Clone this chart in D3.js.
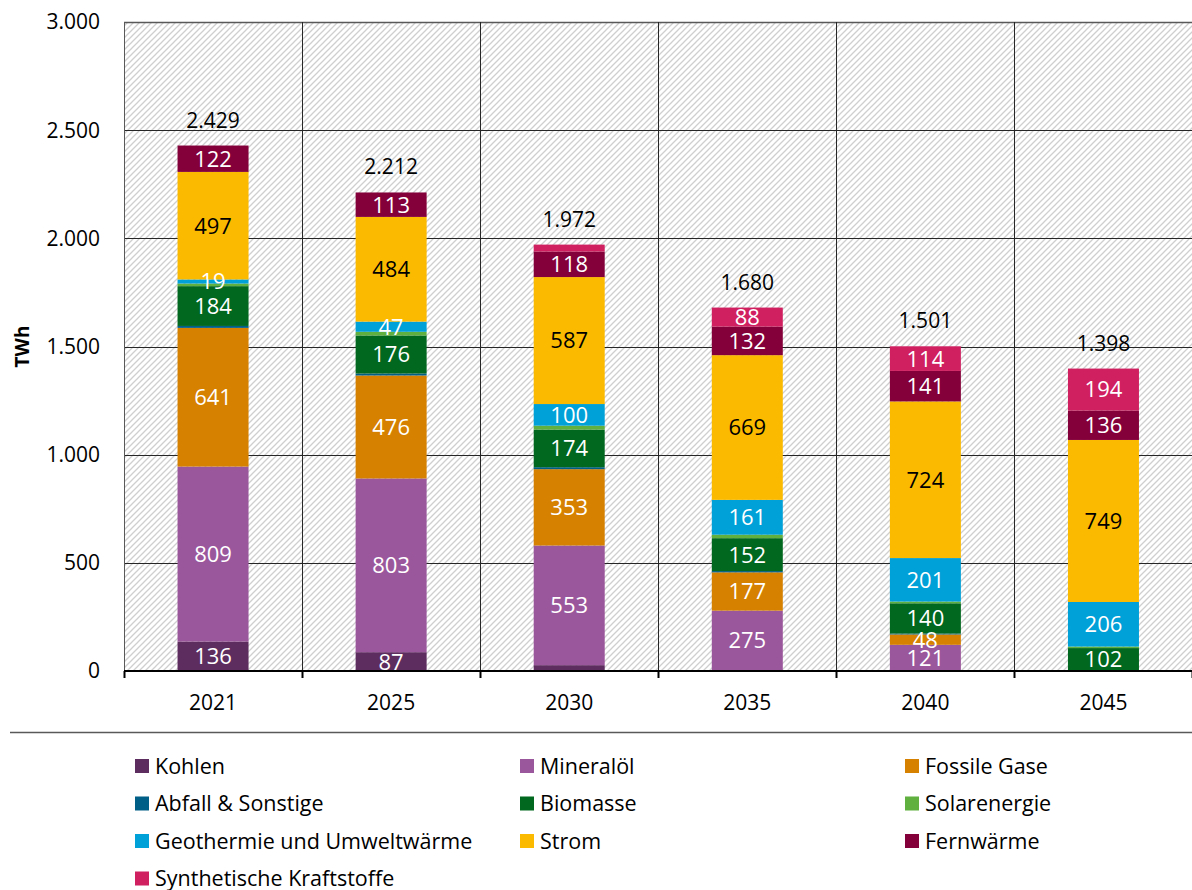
<!DOCTYPE html>
<html>
<head>
<meta charset="utf-8">
<script src="https://cdn.jsdelivr.net/npm/d3@7"></script>
<style>
  body { margin: 0; background: #fff; }
  text { font-family: "Open Sans", Lato, sans-serif; }
</style>
</head>
<body>
<div id="graph"></div>
<script>
// years on the x axis
var years = ['2021', '2025', '2030', '2035', '2040', '2045']

// series, bottom to top
var seriesNames = ['Kohlen', 'Mineralöl', 'Fossile Gase', 'Abfall & Sonstige', 'Biomasse',
  'Solarenergie', 'Geothermie und Umweltwärme', 'Strom', 'Fernwärme', 'Synthetische Kraftstoffe']

var seriesColors = ['#5e2d60', '#9b579c', '#d68100', '#005f87', '#00681f',
  '#5fb03f', '#00a0d8', '#fbba00', '#84003a', '#d02060']

// values in TWh, one array per series, in order of years
var kohlen     = [136, 87, 27, 4, 0, 0]
var mineraloel = [809, 803, 553, 275, 121, 0]
var fossil     = [641, 476, 353, 177, 48, 0]
var abfall     = [9, 9, 9, 6, 4, 4]
var biomasse   = [184, 176, 174, 152, 140, 102]
var solar      = [12, 17, 18, 16, 8, 7]
var geo        = [19, 47, 100, 161, 201, 206]
var strom      = [497, 484, 587, 669, 724, 749]
var fernwaerme = [122, 113, 118, 132, 141, 136]
var synth      = [0, 0, 32, 88, 114, 194]

// totals printed above the bars
var totals = [2429, 2212, 1972, 1680, 1501, 1398]

var yTicks = [0, 500, 1000, 1500, 2000, 2500, 3000]

var seriesValues = [kohlen, mineraloel, fossil, abfall, biomasse, solar, geo, strom, fernwaerme, synth]

var de = d3.formatLocale({decimal: ',', thousands: '.', grouping: [3], currency: ['', ' €']})
var fmt = de.format(',d')

var W = 1192, H = 890
var margin = {left: 124, top: 22, right: 0}
var plotBottom = 671

var svg = d3.select('#graph').append('svg').attr('width', W).attr('height', H)

var rows = years.map(function(y, i){
  var r = {year: y}
  seriesNames.forEach(function(s, j){ r[s] = seriesValues[j][i] })
  return r
})
var stacked = d3.stack().keys(seriesNames)(rows)

var x = d3.scaleBand().domain(years).range([margin.left, W + 0.5]).paddingInner(0).paddingOuter(0)
var y = d3.scaleLinear().domain([0, 3000]).range([plotBottom, margin.top])
var color = d3.scaleOrdinal().domain(seriesNames).range(seriesColors)

var barW = 71

// hatched plot background
var defs = svg.append('defs')
var pat = defs.append('pattern').attr('id', 'hatch')
  .attr('patternUnits', 'userSpaceOnUse').attr('width', 6).attr('height', 6)
pat.append('rect').attr('width', 6).attr('height', 6).attr('fill', '#fff')
pat.append('path').attr('d', 'M-1,1 l2,-2 M0,6 l6,-6 M5,7 l2,-2')
  .attr('stroke', '#cfcfcf').attr('stroke-width', 1.3)

svg.append('rect')
  .attr('x', margin.left).attr('y', margin.top)
  .attr('width', W - margin.left).attr('height', plotBottom - margin.top)
  .attr('fill', 'url(#hatch)')

// horizontal gridlines
svg.append('g').selectAll('line').data(yTicks.filter(function(d){ return d > 0 }))
  .join('line')
  .attr('x1', margin.left).attr('x2', W)
  .attr('y1', function(d){ return Math.round(y(d)) + 0.5 })
  .attr('y2', function(d){ return Math.round(y(d)) + 0.5 })
  .attr('stroke', function(d){ return d == 3000 ? '#595959' : '#262626' })
  .attr('stroke-width', function(d){ return d == 3000 ? 1.5 : 1 })

// vertical gridlines at category boundaries
var bounds = years.map(function(d){ return x(d) })
svg.append('g').selectAll('line').data(bounds)
  .join('line')
  .attr('x1', function(d){ return Math.round(d) + 0.5 })
  .attr('x2', function(d){ return Math.round(d) + 0.5 })
  .attr('y1', margin.top).attr('y2', plotBottom)
  .attr('stroke', function(d, i){ return i == 0 ? '#595959' : '#262626' })
  .attr('stroke-width', 1)

// stacked bars
var layer = svg.append('g').selectAll('g').data(stacked).join('g')
  .attr('fill', function(d){ return color(d.key) })

layer.selectAll('rect').data(function(d){ return d.map(function(p){ p.key = d.key; return p }) })
  .join('rect')
  .attr('x', function(d){ return x(d.data.year) + x.bandwidth() / 2 - barW / 2 })
  .attr('width', barW)
  .attr('y', function(d){ return y(d[1]) })
  .attr('height', function(d){ return Math.max(0, y(d[0]) - y(d[1])) })

// segment labels
function showLabel(d){
  var v = d[1] - d[0]
  if (d.key == 'Abfall & Sonstige' || d.key == 'Solarenergie') return false
  if (d.key == 'Geothermie und Umweltwärme') return v >= 15
  return v >= 40
}
var labels = []
stacked.forEach(function(s){ s.forEach(function(p){ if (showLabel(p)) labels.push(p) }) })

svg.append('g').selectAll('text').data(labels).join('text')
  .attr('x', function(d){ return x(d.data.year) + x.bandwidth() / 2 })
  .attr('y', function(d){ return (y(d[0]) + y(d[1])) / 2 })
  .attr('dy', '0.36em')
  .attr('text-anchor', 'middle')
  .attr('font-size', 22)
  .attr('fill', function(d){ return d.key == 'Strom' ? '#000' : '#fff' })
  .text(function(d){ return fmt(d[1] - d[0]) })

// totals
svg.append('g').selectAll('text').data(totals).join('text')
  .attr('x', function(d, i){ return x(years[i]) + x.bandwidth() / 2 })
  .attr('y', function(d, i){ return y(d3.sum(seriesValues, function(s){ return s[i] })) - 18 })
  .attr('text-anchor', 'middle')
  .attr('font-size', 21)
  .attr('fill', '#000')
  .text(function(d){ return fmt(d) })

// x axis
var xAxis = svg.append('g').attr('transform', 'translate(0,' + plotBottom + ')')
xAxis.append('line').attr('x1', margin.left).attr('x2', W).attr('stroke', '#000').attr('stroke-width', 2)
xAxis.selectAll('line.tick').data(bounds.concat([W])).join('line').attr('class', 'tick')
  .attr('x1', function(d){ return Math.round(d) + 0.5 })
  .attr('x2', function(d){ return Math.round(d) + 0.5 })
  .attr('y1', 0).attr('y2', 7)
  .attr('stroke', '#000').attr('stroke-width', 2)
xAxis.selectAll('text').data(years).join('text')
  .attr('x', function(d){ return x(d) + x.bandwidth() / 2 })
  .attr('y', 32)
  .attr('dy', '0.35em')
  .attr('text-anchor', 'middle')
  .attr('font-size', 21)
  .text(function(d){ return d })

// y axis labels
svg.append('g').selectAll('text').data(yTicks).join('text')
  .attr('x', 100)
  .attr('y', function(d){ return y(d) })
  .attr('dy', '0.35em')
  .attr('text-anchor', 'end')
  .attr('font-size', 21)
  .text(function(d){ return fmt(d) })

svg.append('text')
  .attr('transform', 'translate(22,' + y(1500) + ') rotate(-90)')
  .attr('dy', '0.35em')
  .attr('text-anchor', 'middle')
  .attr('font-size', 19)
  .attr('font-weight', 'bold')
  .text('TWh')

// separator above legend
svg.append('line').attr('x1', 10).attr('x2', W).attr('y1', 732.5).attr('y2', 732.5)
  .attr('stroke', '#595959').attr('stroke-width', 1.5)

// legend, three columns
var legCols = [135, 520, 905]
var legRows = [766, 803.5, 841, 878.5]
var leg = svg.append('g').selectAll('g').data(seriesNames).join('g')
  .attr('transform', function(d, i){ return 'translate(' + legCols[i % 3] + ',' + legRows[Math.floor(i / 3)] + ')' })
leg.append('rect').attr('x', 0).attr('y', -7).attr('width', 14).attr('height', 14)
  .attr('fill', function(d){ return color(d) })
leg.append('text').attr('x', 20).attr('dy', '0.35em').attr('font-size', 21.5)
  .text(function(d){ return d })
</script>
</body>
</html>
